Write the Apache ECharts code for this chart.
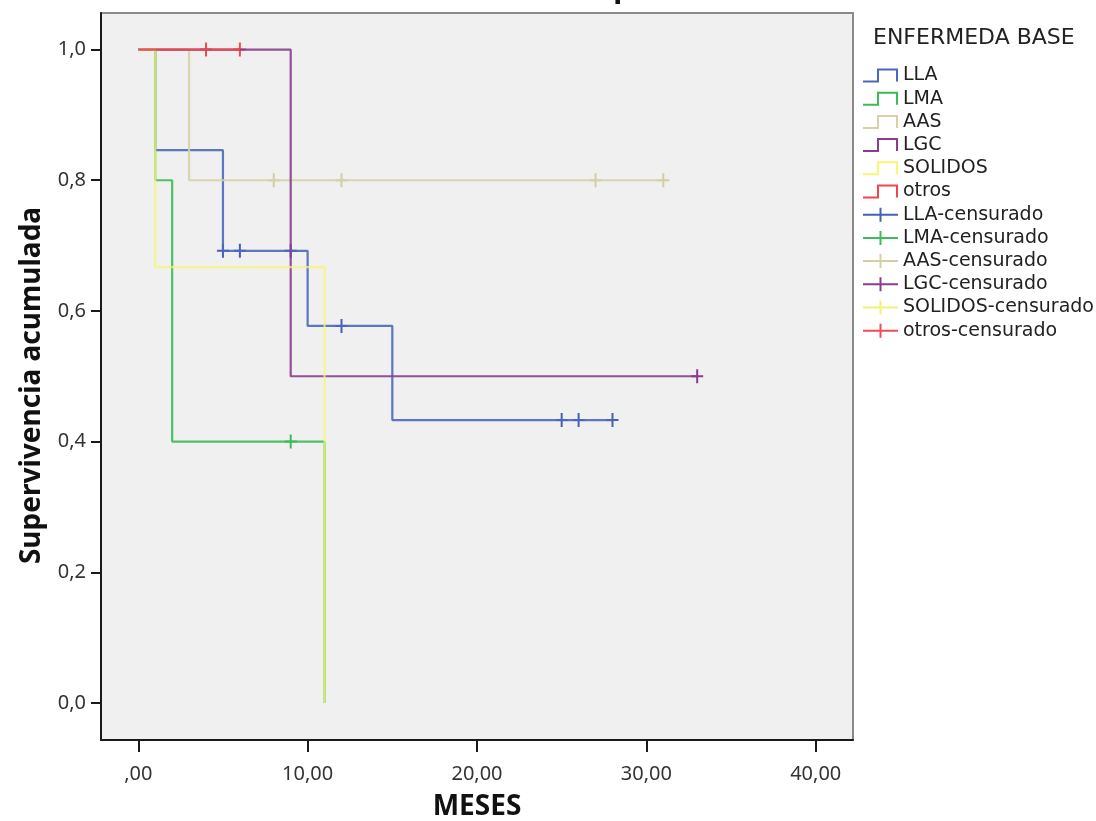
<!DOCTYPE html>
<html>
<head>
<meta charset="utf-8">
<script src="https://cdn.jsdelivr.net/npm/echarts@6/dist/echarts.min.js"></script>
<style>html,body{margin:0;padding:0;background:#fff;overflow:hidden;}#c{width:1096px;height:821px;}</style>
</head>
<body>
<div id="c"></div>
<script>
// ---- data ----
const groups = ['LLA', 'LMA', 'AAS', 'LGC', 'SOLIDOS', 'otros'];
const colors = ['#4a68bd', '#3dbb55', '#d6d1a6', '#8a3d8e', '#f8f672', '#f0474c'];
const censorColors = ['#3250ab', '#2fb04a', '#cfc99a', '#7d2a82', '#f3f060', '#ee3a40'];

// step curves: time points and cumulative survival
const llaTime = [0, 1, 5, 10, 15, 28];
const llaSurv = [1, 0.846, 0.692, 0.577, 0.433, 0.433];
const lmaTime = [0, 1, 2, 11];
const lmaSurv = [1, 0.8, 0.4, 0];
const aasTime = [0, 3, 31];
const aasSurv = [1, 0.8, 0.8];
const lgcTime = [0, 9, 33];
const lgcSurv = [1, 0.5, 0.5];
const solTime = [0, 1, 11];
const solSurv = [1, 0.667, 0];
const otrTime = [0, 6];
const otrSurv = [1, 1];

// censored observations
const llaCensT = [5, 6, 9, 12, 25, 26, 28];
const llaCensS = [0.692, 0.692, 0.692, 0.577, 0.433, 0.433, 0.433];
const lmaCensT = [9];
const lmaCensS = [0.4];
const aasCensT = [8, 12, 27, 31];
const aasCensS = [0.8, 0.8, 0.8, 0.8];
const lgcCensT = [33];
const lgcCensS = [0.5];
const solCensT = [];
const solCensS = [];
const otrCensT = [4, 6];
const otrCensS = [1, 1];

const xTicks = [0, 10, 20, 30, 40];
const yTicks = [0, 0.2, 0.4, 0.6, 0.8, 1.0];

// ---- build ----
const curves = [[llaTime, llaSurv], [lmaTime, lmaSurv], [aasTime, aasSurv], [lgcTime, lgcSurv], [solTime, solSurv], [otrTime, otrSurv]];
const censors = [[llaCensT, llaCensS], [lmaCensT, lmaCensS], [aasCensT, aasCensS], [lgcCensT, lgcCensS], [solCensT, solCensS], [otrCensT, otrCensS]];
const zip = (a, b) => a.map((v, i) => [v, b[i]]);

const stepIcon = 'path://M0,12h14v-12h21v13h-2v-11h-17v12h-16z';
const plusIcon = 'path://M0,6h35v2h-35z M16.5,0h2v14h-2z';
const plusSym = 'path://M5,0h2v6h5v2h-5v6h-2v-6h-5v-2h5z';

const series = [];
const legendData = [];
groups.forEach((g, i) => {
  series.push({
    name: g, type: 'line', step: 'end', data: zip(curves[i][0], curves[i][1]),
    showSymbol: false, symbol: 'none', color: colors[i],
    lineStyle: { width: 2.2, color: colors[i], opacity: i === 4 ? 0.75 : 0.9 },
    emphasis: { disabled: true }, animation: false
  });
  legendData.push({ name: g, icon: stepIcon });
});
groups.forEach((g, i) => {
  series.push({
    name: g + '-censurado', type: 'scatter', data: zip(censors[i][0], censors[i][1]),
    symbol: plusSym, symbolSize: [12, 14], color: censorColors[i],
    itemStyle: { color: censorColors[i], opacity: 0.9 },
    emphasis: { disabled: true }, animation: false
  });
  legendData.push({ name: g + '-censurado', icon: plusIcon });
});

const fmtX = v => (v === 0 ? ',00' : v.toFixed(2).replace('.', ','));
const fmtY = v => v.toFixed(1).replace('.', ',');

const chart = echarts.init(document.getElementById('c'), null, { renderer: 'canvas' });
chart.setOption({
  backgroundColor: '#ffffff',
  animation: false,
  grid: { left: 101, top: 13, right: 243, bottom: 81, containLabel: false, outerBoundsMode: 'none', show: true, backgroundColor: '#f0f0f0', borderColor: '#8a8a8a', borderWidth: 2 },
  xAxis: {
    type: 'value', min: -2.2, max: 42.2,
    name: 'MESES', nameLocation: 'middle', nameGap: 53,
    nameTextStyle: { fontFamily: 'Noto Sans', fontWeight: 'bold', fontSize: 28, color: '#111' },
    axisLine: { onZero: false, lineStyle: { color: '#1a1a1a', width: 2 } },
    axisTick: { show: true, length: 12, lineStyle: { color: '#1a1a1a', width: 2 }, customValues: xTicks },
    axisLabel: { customValues: xTicks, formatter: fmtX, margin: 24, fontFamily: 'Noto Sans', fontSize: 20, color: '#333' },
    splitLine: { show: false }
  },
  yAxis: {
    type: 'value', min: -0.0566, max: 1.0559,
    name: 'Supervivencia acumulada', nameLocation: 'middle', nameGap: 55, nameRotate: 90,
    nameTextStyle: { fontFamily: 'Noto Sans', fontWeight: 'bold', fontSize: 28, color: '#111', padding: [0, 18, 0, 0] },
    axisLine: { onZero: false, lineStyle: { color: '#1a1a1a', width: 2 } },
    axisTick: { show: true, length: 10, lineStyle: { color: '#1a1a1a', width: 2 }, customValues: yTicks },
    axisLabel: { customValues: yTicks, formatter: fmtY, margin: 15, fontFamily: 'Noto Sans', fontSize: 20, color: '#333' },
    splitLine: { show: false }
  },
  legend: {
    orient: 'vertical', left: 858, top: 61, itemWidth: 35, itemHeight: 14, itemGap: 4.2,
    symbolKeepAspect: false, selectedMode: false, data: legendData,
    textStyle: { fontFamily: 'DejaVu Sans', fontSize: 19, lineHeight: 19, color: '#222' }
  },
  graphic: [
    { type: 'text', x: 375, y: -12, silent: true,
      style: { text: 'Funciones de supervivencia', fontFamily: 'Noto Sans', fontWeight: 'bold', fontSize: 30, fill: '#111', verticalAlign: 'middle' } },
    { type: 'text', x: 873, y: 38, silent: true,
      style: { text: 'ENFERMEDA BASE', fontFamily: 'DejaVu Sans', fontSize: 22, fill: '#222', verticalAlign: 'middle' } }
  ],
  series: series
});
</script>
</body>
</html>
